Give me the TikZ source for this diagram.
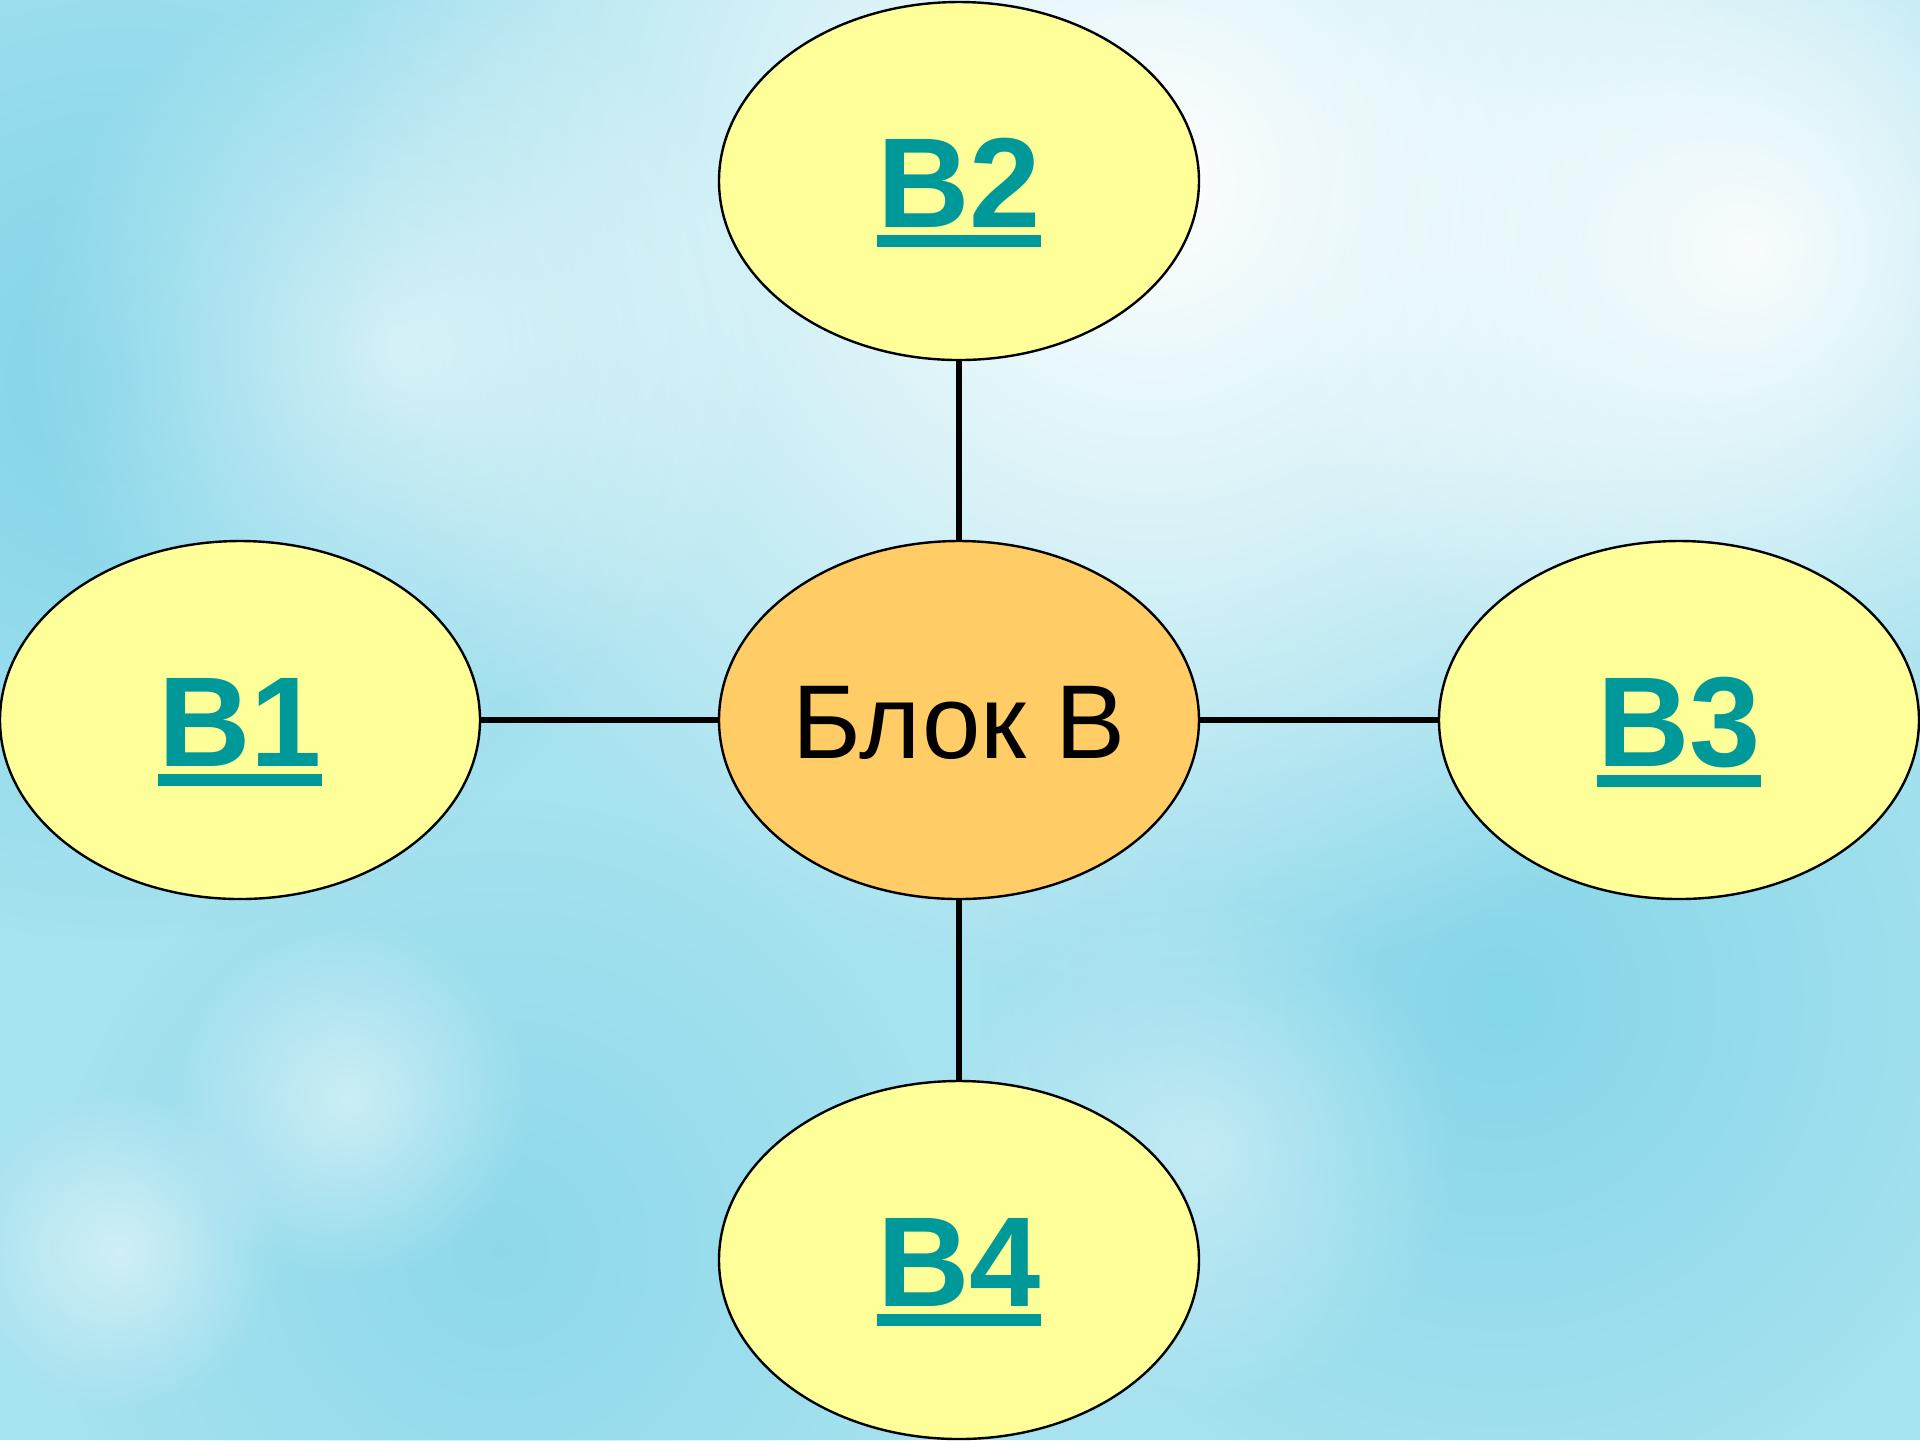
\documentclass[tikz,border=0pt]{standalone}
\usepackage{fontspec}
\setmainfont{Liberation Sans}
\usetikzlibrary{shapes.geometric,fadings}
\definecolor{bgcyan}{HTML}{A6E2EF}
\definecolor{bgdeep}{HTML}{7DD3E8}
\definecolor{pale}{HTML}{FFFF99}
\definecolor{orangefill}{HTML}{FFCC66}
\definecolor{teal}{HTML}{009999}
\tikzfading[name=softfade, inner color=transparent!0, outer color=transparent!100]
\newcommand\ulbold[1]{\leavevmode\vtop{\hbox{#1}\kern2pt\hrule height 3pt}}
\tikzset{
  bubble/.style={ellipse, draw=black, line width=0.6pt, fill=pale,
    minimum width=120pt, minimum height=89.5pt, inner sep=0pt},
  hub/.style={bubble, fill=orangefill},
  linklabel/.style={anchor=base, inner sep=0pt, text=teal,
    font=\fontsize{32}{38}\selectfont\bfseries},
  hublabel/.style={anchor=base, inner sep=0pt, text=black,
    font=\fontsize{26.25}{31}\selectfont},
  connector/.style={line width=1.5pt, draw=black},
  glow/.style={fill=white, path fading=softfade}
}
\begin{document}
\begin{tikzpicture}[x=0.25pt,y=-0.25pt]
\useasboundingbox (0,0) rectangle (1920,1440);
% background
\fill[bgcyan] (0,0) rectangle (1920,1440);
\fill[bgdeep, path fading=softfade, opacity=0.9] (120,380) circle (560);
\fill[bgdeep, path fading=softfade, opacity=0.8] (1500,1000) circle (520);
\fill[bgdeep, path fading=softfade, opacity=0.6] (500,1250) circle (450);
\fill[glow, opacity=1] (1150,180) circle (820);
\fill[glow, opacity=0.9] (1750,250) circle (500);
\fill[glow, opacity=0.6] (400,350) circle (380);
\fill[glow, opacity=0.5] (350,1100) circle (180);
\fill[glow, opacity=0.5] (120,1250) circle (160);
\fill[glow, opacity=0.4] (1200,1150) circle (260);
% nodes
\node[hub] (c) at (959,720) {};
\node[bubble] (b1) at (240,720) {};
\node[bubble] (b2) at (959,181) {};
\node[bubble] (b3) at (1679,720) {};
\node[bubble] (b4) at (959,1260) {};
\node[hublabel] (ct) at (959,758) {Блок В};
\node[linklabel] (b1t) at (240,766) {\ulbold{B1}};
\node[linklabel] (b2t) at (959,227) {\ulbold{B2}};
\node[linklabel] (b3t) at (1679,766) {\ulbold{B3}};
\node[linklabel] (b4t) at (959,1306) {\ulbold{B4}};
% connectors
\draw[connector] (b1.east) -- (c.west);
\draw[connector] (c.east) -- (b3.west);
\draw[connector] (b2.south) -- (c.north);
\draw[connector] (c.south) -- (b4.north);
\end{tikzpicture}
\end{document}
